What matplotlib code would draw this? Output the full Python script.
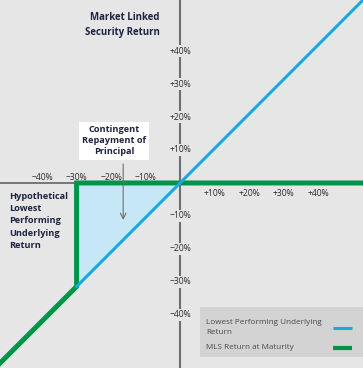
import matplotlib
matplotlib.use('Agg')
from matplotlib import pyplot as plt
import numpy as np

# underlying return (x) and the two series (y), in percent
underlying = [-30, 0, 60]
lowest_return = [-30, 0, 60]
mls_x = [-60, -30, -30, 60]
mls_y = [-60, -30, 0, 0]
fill_x = [-30, 0]
fill_y = [-30, 0]

y_ticks = [40, 30, 20, 10, -10, -20, -30, -40]
y_labels = ['+40%', '+30%', '+20%', '+10%', '\u221210%', '\u221220%', '\u221230%', '\u221240%']
x_neg_ticks = [-40, -30, -20, -10]
x_neg_labels = ['\u221240%', '\u221230%', '\u221220%', '\u221210%']
x_pos_ticks = [10, 20, 30, 40]
x_pos_labels = ['+10%', '+20%', '+30%', '+40%']

bg = '#e6e6e7'
blue = '#1ba8e0'
green = '#00944a'
navy = '#1d2340'
axis_grey = '#6d6e71'
tick_col = '#2b2b2e'

plt.rcParams['font.family'] = ['Open Sans', 'DejaVu Sans']

fig = plt.figure(figsize=(3.63, 3.68), dpi=100)
fig.patch.set_facecolor(bg)
ax = fig.add_axes([0, 0, 1, 1])
ax.set_facecolor(bg)
ax.set_xlim(-52.2, 53.0)
ax.set_ylim(-53.6, 53.0)
ax.axis('off')

# shaded contingent protection area
ax.fill_between(fill_x, fill_y, 0, color='#c6e7f6', zorder=1, linewidth=0)

# MLS return line
ax.plot(mls_x, mls_y, color=green, linewidth=3.6, solid_joinstyle='miter', zorder=3)

# axes
ax.axhline(0, color=axis_grey, linewidth=1.3, zorder=2)
ax.axvline(0, color=axis_grey, linewidth=1.5, zorder=4)

# lowest performing underlying
ax.plot(underlying, lowest_return, color=blue, linewidth=2.2, zorder=5)

# tick labels (vertical ones sit slightly closer together than the data scale)
for v, lab in zip(y_ticks, y_labels):
    ax.text(0, v * 0.955, lab, ha='center', va='center', fontsize=6.2, color=tick_col, zorder=6,
            bbox=dict(facecolor=bg, edgecolor='none', pad=1.2))
for v, lab in zip(x_neg_ticks, x_neg_labels):
    ax.text(v, 1.6, lab, ha='center', va='center', fontsize=6.2, color=tick_col, zorder=6)
for v, lab in zip(x_pos_ticks, x_pos_labels):
    ax.text(v, -3.1, lab, ha='center', va='center', fontsize=6.2, color=tick_col, zorder=6)

# axis titles
ax.text(-6.0, 45.8, 'Market Linked\nSecurity Return', ha='right', va='center', fontsize=6.9,
        fontweight='bold', color=navy, linespacing=1.45)
ax.text(-49.5, -11.0, 'Hypothetical\nLowest\nPerforming\nUnderlying\nReturn', ha='left', va='center',
        fontsize=6.6, fontweight='bold', color=navy, linespacing=1.45)

# annotation
ax.annotate('', xy=(-16.5, -11.5), xytext=(-16.5, 6.3),
            arrowprops=dict(arrowstyle='->', color='#6d6e71', linewidth=0.8), zorder=6)
ax.text(-19.1, 12.2, 'Contingent\nRepayment of\nPrincipal', ha='center', va='center', fontsize=6.6,
        fontweight='bold', color=navy, linespacing=1.3, zorder=7,
        bbox=dict(facecolor='white', edgecolor='none', pad=2.3))

# legend box
ax.add_patch(plt.Rectangle((5.8, -50.5), 50, 14.5, facecolor='#d3d3d4', edgecolor='none', zorder=6))
ax.text(7.5, -41.9, 'Lowest Performing Underlying\nReturn', ha='left', va='center', fontsize=5.85,
        color='#4a4a4a', linespacing=1.5, zorder=7)
ax.text(7.5, -47.8, 'MLS Return at Maturity', ha='left', va='center', fontsize=5.85,
        color='#4a4a4a', zorder=7)
ax.plot([44.2, 49.8], [-42.0, -42.0], color=blue, linewidth=2.2, zorder=7, solid_capstyle='butt')
ax.plot([44.2, 49.8], [-47.8, -47.8], color=green, linewidth=3.0, zorder=7, solid_capstyle='butt')

plt.savefig('out.png', dpi=100, facecolor=bg)
